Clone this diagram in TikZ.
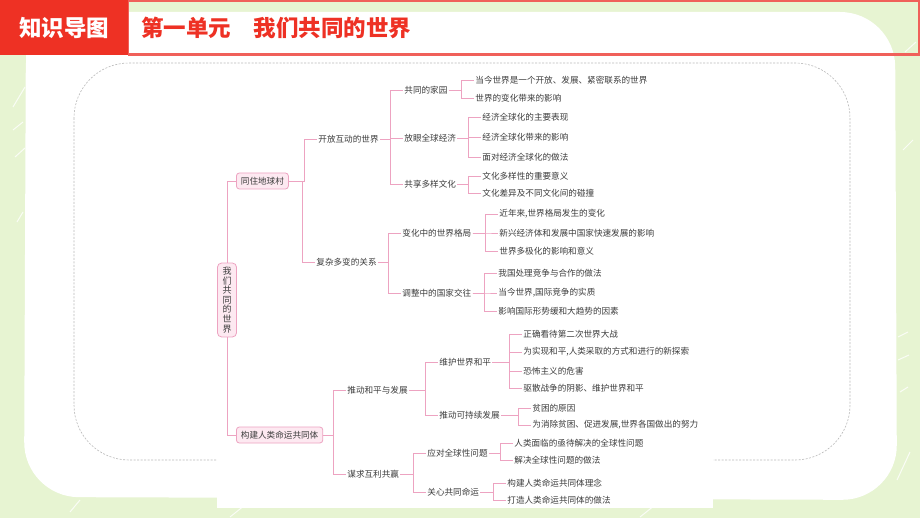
\documentclass[tikz,border=0pt]{standalone}
\usepackage{fontspec}
\newfontfamily\cjk{Noto Sans CJK SC}
\definecolor{bggreen}{HTML}{E7F4D2}
\definecolor{hdred}{HTML}{EE3124}
\definecolor{hdline}{HTML}{F0605A}
\definecolor{lnpink}{HTML}{EDA3C1}
\definecolor{boxpink}{HTML}{FDE9F1}
\definecolor{txtgray}{HTML}{3C3C3C}
\tikzset{
  item/.style={anchor=west, inner sep=1.2pt, text=txtgray, font=\cjk\fontsize{8.6}{10}\selectfont},
  topic/.style={anchor=west, draw=lnpink, fill=boxpink, rounded corners=3pt, line width=0.8pt,
    inner xsep=4.5pt, inner ysep=2pt, minimum height=16pt, text=txtgray, font=\cjk\fontsize{8.6}{10}\selectfont},
  link/.style={draw=lnpink, line width=0.8pt},
  streak/.style={white, line width=1pt, opacity=0.8},
}
% elbow connector: parent east, over to a bus 12.5pt before the child, down to the child
\newcommand{\branch}[2]{\draw[link] (#1.east) -| ([xshift=-12.5pt]#2.west) -- (#2.west);}

\begin{document}
\begin{tikzpicture}[x=1pt,y=-1pt]
        \useasboundingbox (0,0) rectangle (920,518);

        % Green background and white panel
        \fill[bggreen] (0,0) rectangle (920,518);
        \fill[white, rounded corners=55pt] (26,12) -- (895,12) -- (897,500) -- (24,497) -- cycle;
        \fill[white] (26,12) rectangle (150,150);
        \foreach \a/\b/\c/\d in {13/107/25/87, 13/130/23/122, 15/157/25/148, 17/222/23/212,
            903/150/913/140, 898/337/908/332, 898/360/909/355, 900/392/908/387, 897/480/910/452,
            70/512/80/500, 230/517/245/505, 640/517/655/505, 905/52/916/42}
            \draw[streak] (\a,\b) -- (\c,\d);

        % Dashed frame, partly hidden by the map sheet
        \draw[gray!55, line width=0.6pt, dash pattern=on 2pt off 1.5pt, rounded corners=55pt] (74,63) rectangle (850,460);
        \fill[white] (217,67) rectangle (713,508);

        % Header
        \draw[hdline, line width=1.5pt] (128,1) rectangle (919,54);
        \draw[hdline, line width=3pt] (128,54.5) -- (920,54.5);
        \fill[hdred] (0,0) rectangle (128,55.5);
        \node[text=white, font=\cjk\bfseries\fontsize{22.5}{24}\selectfont] (hdtag) at (64,28) {知识导图};
        \node[anchor=west, inner sep=0pt, text=hdred, font=\cjk\bfseries\fontsize{22.5}{24}\selectfont] (hdtitle) at (141,28) {第一单元　我们共同的世界};

        % Root
        \node[draw=lnpink, fill=boxpink, rounded corners=4pt, line width=0.8pt, inner xsep=5pt, inner ysep=4pt,
            align=center, text=txtgray, font=\cjk\fontsize{9}{9.6}\selectfont] (root) at (227,300)
            {我\\们\\共\\同\\的\\世\\界};

        % First level
        \node[topic] (cz) at (236,181) {同住地球村};
        \node[topic] (gj) at (236,435) {构建人类命运共同体};
        \draw[link] (root.north) |- (cz.west);
        \draw[link] (root.south) |- (gj.west);

        % Part one: 同住地球村
        \node[item] (kf) at (317,139) {开放互动的世界};
        \node[item] (fz) at (315,262) {复杂多变的关系};
        \branch{cz}{kf} \branch{cz}{fz}

        \node[item] (jy) at (403,90) {共同的家园};
        \node[item] (fy) at (403,138) {放眼全球经济};
        \node[item] (gx) at (403,184) {共享多样文化};
        \branch{kf}{jy} \branch{kf}{fy} \branch{kf}{gx}

        \node[item] (jy1) at (474,80) {当今世界是一个开放、发展、紧密联系的世界};
        \node[item] (jy2) at (474,98) {世界的变化带来的影响};
        \branch{jy}{jy1} \branch{jy}{jy2}

        \node[item] (fy1) at (481,117) {经济全球化的主要表现};
        \node[item] (fy2) at (481,137) {经济全球化带来的影响};
        \node[item] (fy3) at (481,157) {面对经济全球化的做法};
        \branch{fy}{fy1} \branch{fy}{fy2} \branch{fy}{fy3}

        \node[item] (gx1) at (481,176) {文化多样性的重要意义};
        \node[item] (gx2) at (481,193) {文化差异及不同文化间的碰撞};
        \branch{gx}{gx1} \branch{gx}{gx2}

        \node[item] (bh) at (401,233) {变化中的世界格局};
        \node[item] (tz) at (401,293) {调整中的国家交往};
        \branch{fz}{bh} \branch{fz}{tz}

        \node[item] (bh1) at (498,214) {近年来,世界格局发生的变化};
        \node[item] (bh2) at (498,233) {新兴经济体和发展中国家快速发展的影响};
        \node[item] (bh3) at (498,251) {世界多极化的影响和意义};
        \branch{bh}{bh1} \branch{bh}{bh2} \branch{bh}{bh3}

        \node[item] (tz1) at (497,273) {我国处理竞争与合作的做法};
        \node[item] (tz2) at (497,293) {当今世界,国际竞争的实质};
        \node[item] (tz3) at (497,311) {影响国际形势缓和大趋势的因素};
        \branch{tz}{tz1} \branch{tz}{tz2} \branch{tz}{tz3}

        % Part two: 构建人类命运共同体
        \node[item] (tj) at (346,390) {推动和平与发展};
        \node[item] (mq) at (346,474) {谋求互利共赢};
        \branch{gj}{tj} \branch{gj}{mq}

        \node[item] (wh) at (438,362) {维护世界和平};
        \node[item] (kc) at (438,415) {推动可持续发展};
        \branch{tj}{wh} \branch{tj}{kc}

        \node[item] (wh1) at (522,334) {正确看待第二次世界大战};
        \node[item] (wh2) at (522,352) {为实现和平,人类采取的方式和进行的新探索};
        \node[item] (wh3) at (522,371) {恐怖主义的危害};
        \node[item] (wh4) at (522,388) {驱散战争的阴影、维护世界和平};
        \branch{wh}{wh1} \branch{wh}{wh2} \branch{wh}{wh3} \branch{wh}{wh4}

        \node[item] (kc1) at (531,408) {贫困的原因};
        \node[item] (kc2) at (531,425) {为消除贫困、促进发展,世界各国做出的努力};
        \branch{kc}{kc1} \branch{kc}{kc2}

        \node[item] (yd) at (426,453) {应对全球性问题};
        \node[item] (gm) at (426,492) {关心共同命运};
        \branch{mq}{yd} \branch{mq}{gm}

        \node[item] (yd1) at (513,443) {人类面临的亟待解决的全球性问题};
        \node[item] (yd2) at (513,460) {解决全球性问题的做法};
        \branch{yd}{yd1} \branch{yd}{yd2}

        \node[item] (gm1) at (506,483) {构建人类命运共同体理念};
        \node[item] (gm2) at (506,500) {打造人类命运共同体的做法};
        \branch{gm}{gm1} \branch{gm}{gm2}

    \end{tikzpicture}
\end{document}
